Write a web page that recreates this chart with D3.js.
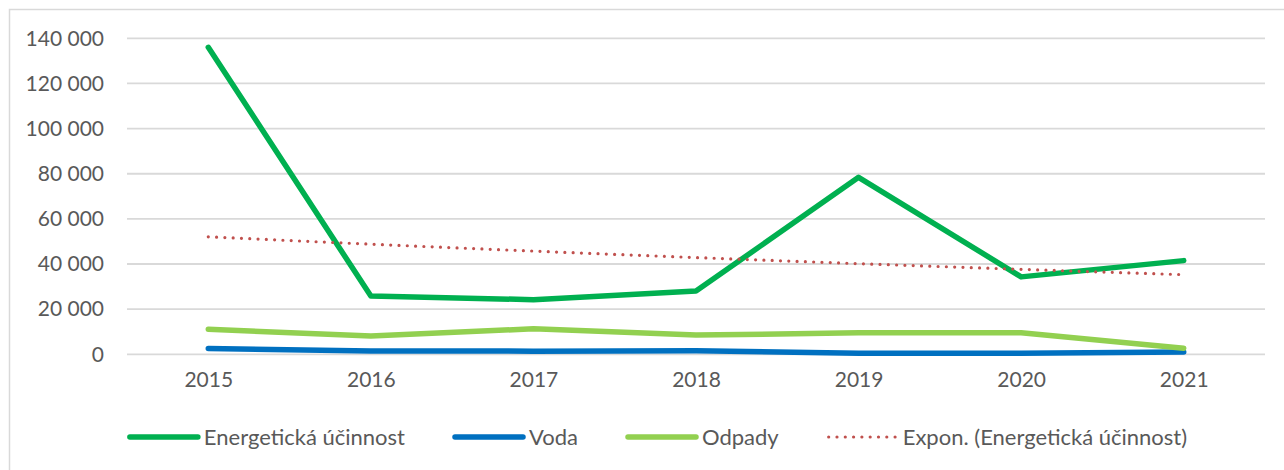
<!DOCTYPE html>
<html>
<head>
<meta charset="utf-8">
<script src="https://cdn.jsdelivr.net/npm/d3@7"></script>
<style>
  body { margin: 0; background: #fff; }
  svg text { font-family: Lato, "Open Sans", sans-serif; fill: #595959; }
</style>
</head>
<body>
<div id="chart"></div>
<script>
// data
const years = ["2015", "2016", "2017", "2018", "2019", "2020", "2021"];
const energie = [136000, 25800, 24200, 28000, 78400, 34300, 41500];
const voda = [2600, 1500, 1400, 1600, 500, 500, 1000];
const odpady = [11100, 8100, 11300, 8500, 9500, 9500, 2700];
const yTicks = [0, 20000, 40000, 60000, 80000, 100000, 120000, 140000];

const series = [
  { name: "Energetická účinnost", values: energie, color: "#00B050" },
  { name: "Voda", values: voda, color: "#0070C0" },
  { name: "Odpady", values: odpady, color: "#92D050" }
];

const W = 1284, H = 470;
const svg = d3.select("#chart").append("svg")
  .attr("width", W)
  .attr("height", H);

// outer chart border (only top/left visible in the crop)
svg.append("rect")
  .attr("x", 9.5).attr("y", 9.5)
  .attr("width", W + 20).attr("height", H + 20)
  .style("fill", "none")
  .style("stroke", "#D9D9D9")
  .style("stroke-width", 1.5);

const x = d3.scalePoint().domain(years).range([127, 1265]).padding(0.5);
const y = d3.scaleLinear().domain([0, 140000]).range([354.3, 38.3]);

const fmt = d3.formatLocale({ decimal: ",", thousands: "\u00a0", grouping: [3], currency: ["", ""] }).format(",");

// gridlines
svg.append("g").selectAll("line")
  .data(yTicks)
  .join("line")
  .attr("x1", 127).attr("x2", 1265)
  .attr("y1", d => y(d)).attr("y2", d => y(d))
  .style("stroke", "#D9D9D9")
  .style("stroke-width", 1.8);

// y axis labels
const yAxis = svg.append("g")
  .attr("transform", "translate(104,0)")
  .call(d3.axisLeft(y).tickValues(yTicks).tickFormat(fmt).tickSize(0).tickPadding(0));
yAxis.select(".domain").remove();
yAxis.selectAll("text").style("font-size", "21px").style("font-family", null).attr("fill", null);

// x axis labels
const xAxis = svg.append("g")
  .attr("transform", "translate(0,372)")
  .call(d3.axisBottom(x).tickSize(0).tickPadding(0));
xAxis.select(".domain").remove();
xAxis.selectAll("text").style("font-size", "21px").style("font-family", null).attr("fill", null);

const line = d3.line()
  .x((d, i) => x(years[i]))
  .y(d => y(d));

// exponential trendline fitted to Energetická účinnost (as Excel does, x = 1..n)
const lx = energie.map((d, i) => i + 1);
const ly = energie.map(d => Math.log(d));
const mx = d3.mean(lx), my = d3.mean(ly);
const b = d3.sum(lx, (v, i) => (v - mx) * (ly[i] - my)) / d3.sum(lx, v => (v - mx) * (v - mx));
const a = my - b * mx;
const trend = lx.map(v => Math.exp(a + b * v));

// draw order: Energetická, Voda, Odpady, trend on top
series.forEach(s => {
  svg.append("path")
    .datum(s.values)
    .attr("d", line)
    .style("fill", "none")
    .style("stroke", s.color)
    .style("stroke-width", 5.5)
    .style("stroke-linecap", "round")
    .style("stroke-linejoin", "round");
});

svg.append("path")
  .datum(trend)
  .attr("d", line.curve(d3.curveMonotoneX))
  .style("fill", "none")
  .style("stroke", "#C0504D")
  .style("stroke-width", 3.2)
  .style("stroke-linecap", "round")
  .style("stroke-dasharray", "0 8.3");

// legend
const legendItems = [
  { name: "Energetická účinnost", color: "#00B050", dotted: false },
  { name: "Voda", color: "#0070C0", dotted: false },
  { name: "Odpady", color: "#92D050", dotted: false },
  { name: "Expon. (Energetická účinnost)", color: "#C0504D", dotted: true }
];

const legend = svg.append("g").attr("transform", "translate(0,437)");
let cx = 0;
const items = legend.selectAll("g")
  .data(legendItems)
  .join("g");

items.each(function(d) {
  const g = d3.select(this);
  g.append("line")
    .attr("x1", 3).attr("x2", 71)
    .attr("y1", 0).attr("y2", 0)
    .style("stroke", d.color)
    .style("stroke-width", d.dotted ? 3.2 : 5.5)
    .style("stroke-linecap", "round")
    .style("stroke-dasharray", d.dotted ? "0 8.3" : null);
  const t = g.append("text")
    .attr("x", 77)
    .attr("dy", "0.35em")
    .style("font-size", "22px")
    .text(d.name);
  d.w = 77 + t.node().getComputedTextLength();
});

const gap = 47;
const total = d3.sum(legendItems, d => d.w) + gap * (legendItems.length - 1);
cx = 657 - total / 2;
items.attr("transform", d => {
  const tx = cx;
  cx += d.w + gap;
  return `translate(${tx},0)`;
});
</script>
</body>
</html>
